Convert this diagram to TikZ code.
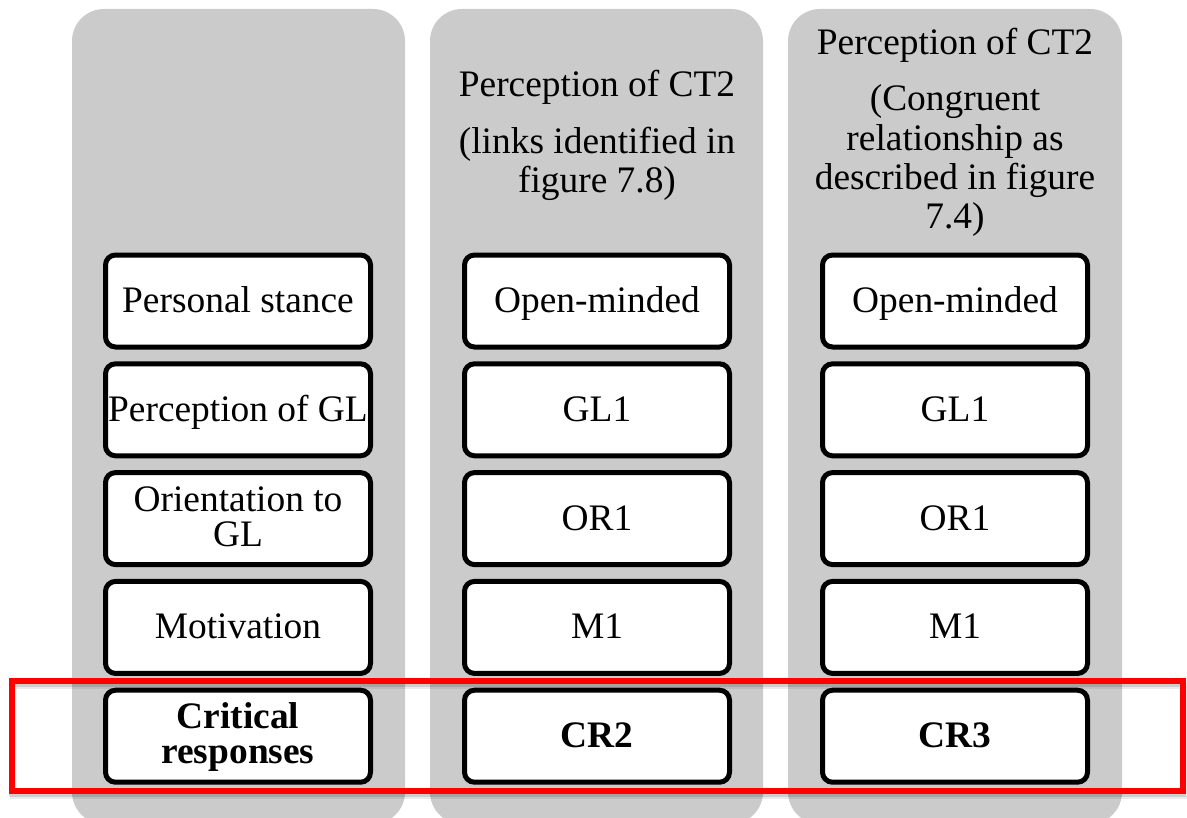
\documentclass[tikz,border=0pt]{standalone}
\usepackage{fontspec}
\setmainfont{Liberation Serif}
\usepackage{tikz}
\usetikzlibrary{positioning}

\definecolor{panelgrey}{HTML}{CBCBCB}
\definecolor{markred}{HTML}{FF0000}
\newcommand{\cellfont}{\fontsize{18.7}{17.5}\selectfont}
\newcommand{\headfont}{\fontsize{18.7}{19.7}\selectfont}

\tikzset{
	panel/.style={fill=panelgrey, rounded corners=16pt},
	cell/.style={draw, line width=2.5pt, rounded corners=5pt, fill=white,
		minimum width=132.5pt, minimum height=46pt, inner sep=0pt,
		align=center, font=\cellfont, text height=15.5pt, text depth=4pt},
	twoline/.style={text height=31.5pt, text depth=4pt},
	head/.style={inner sep=0pt, align=center, font=\headfont},
	markbox/.style={draw=markred, line width=3pt},
	markshade/.style={draw=black, line width=3pt}
}

\begin{document}
\begin{tikzpicture}[x=0.5pt, y=-0.5pt, node distance=5.9pt]
			\useasboundingbox (0,0) rectangle (1187,818);
			% grey columns
			\fill[panel] (72,9) rectangle (405,824);
			\fill[panel] (430,9) rectangle (763,824);
			\fill[panel] (788,9) rectangle (1122,824);
			% column headings
			\node[head, anchor=base] (title_b) at (597,97) {Perception of CT2};
			\node[head] [below=10.5pt of title_b] (note_b) {(links identified in\\figure 7.8)};
			\node[head, anchor=base] (title_c) at (955,55) {Perception of CT2};
			\node[head] [below=10.5pt of title_c] (note_c) {(Congruent\\relationship as\\described in figure\\7.4)};
			% highlight of the last row
			\draw[markshade, opacity=0.08] (13,686) rectangle (1184,796);
			\draw[markshade, opacity=0.12] (12,684) rectangle (1183,794);
			\draw[markbox] (12,681) rectangle (1183,791);
			% first column
			\node[cell] (stance) at (238,301) {Personal stance};
			\node[cell] [below=of stance] (gl_a) {Perception of GL};
			\node[cell, twoline] [below=of gl_a] (or_a) {Orientation to\\GL};
			\node[cell] [below=of or_a] (m_a) {Motivation};
			\node[cell, twoline] [below=of m_a] (cr_a) {\textbf{Critical}\\\textbf{responses}};
			% second column
			\node[cell] (open_b) at (597,301) {Open-minded};
			\node[cell] [below=of open_b] (gl_b) {GL1};
			\node[cell] [below=of gl_b] (or_b) {OR1};
			\node[cell] [below=of or_b] (m_b) {M1};
			\node[cell] [below=of m_b] (cr_b) {\textbf{CR2}};
			% third column
			\node[cell] (open_c) at (955,301) {Open-minded};
			\node[cell] [below=of open_c] (gl_c) {GL1};
			\node[cell] [below=of gl_c] (or_c) {OR1};
			\node[cell] [below=of or_c] (m_c) {M1};
			\node[cell] [below=of m_c] (cr_c) {\textbf{CR3}};
		\end{tikzpicture}
\end{document}
